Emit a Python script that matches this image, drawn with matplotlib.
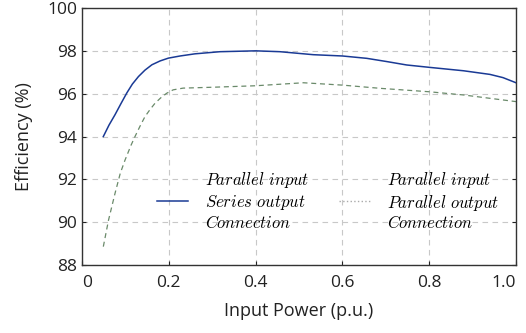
import matplotlib.pyplot as plt
from matplotlib.lines import Line2D

plt.rcParams['font.family'] = ['Open Sans', 'DejaVu Sans']
plt.rcParams['mathtext.fontset'] = 'cm'

# Series input / series output
p_series = [0.049, 0.062, 0.076, 0.09, 0.103, 0.116, 0.13, 0.145, 0.161, 0.18, 0.199, 0.226, 0.26, 0.318,
            0.4, 0.456, 0.533, 0.6, 0.656, 0.702, 0.748, 0.8, 0.879, 0.94, 0.97, 1.0]
eff_series = [94.0, 94.53, 95.02, 95.55, 96.03, 96.45, 96.8, 97.1, 97.35, 97.53, 97.66, 97.76, 97.86, 97.96,
              98.0, 97.96, 97.82, 97.76, 97.65, 97.5, 97.34, 97.23, 97.07, 96.9, 96.75, 96.51]

# Parallel input / parallel output
p_par = [0.049, 0.061, 0.076, 0.088, 0.099, 0.113, 0.122, 0.134, 0.145, 0.157, 0.168, 0.181, 0.195, 0.21,
         0.233, 0.3, 0.4, 0.51, 0.6, 0.687, 0.8, 0.879, 1.0]
eff_par = [88.86, 90.1, 91.35, 92.28, 92.9, 93.6, 94.0, 94.5, 94.93, 95.27, 95.55, 95.8, 96.02, 96.18,
           96.26, 96.3, 96.37, 96.51, 96.4, 96.25, 96.09, 95.94, 95.63]

xticks = [0, 0.2, 0.4, 0.6, 0.8, 1.0]
xticklabels = ['0', '0.2', '0.4', '0.6', '0.8', '1.0']
yticks = [88, 90, 92, 94, 96, 98, 100]

fig = plt.figure(figsize=(5.26, 3.33), dpi=100)
ax = fig.add_axes([0.156, 0.204, 0.825, 0.772])

ax.plot(p_series, eff_series, color='#1a3a95', lw=1.1)
ax.plot(p_par, eff_par, color='#6a8a6a', lw=0.9, linestyle=(0, (4, 3)))

ax.set_xlim(0, 1.0)
ax.set_ylim(88, 100)
ax.set_xticks(xticks)
ax.set_xticklabels(xticklabels)
ax.set_yticks(yticks)
ax.grid(True, color='#c8c8c8', linestyle=(0, (5, 4)), lw=0.8)
ax.tick_params(direction='in', length=3, labelsize=12.5, top=False, right=True, colors='#222222')
ax.tick_params(axis='x', pad=7)
xl = ax.get_xticklabels()
xl[0].set_ha('left')
xl[-1].set_ha('right')
for s in ax.spines.values():
    s.set_color('#333333')
    s.set_linewidth(1.0)

ax.set_xlabel('Input Power (p.u.)', fontsize=13, labelpad=8, color='#222222')
ax.set_ylabel('Efficiency (%)', fontsize=13, labelpad=10, color='#222222')

handles = [Line2D([], [], color='#1a3a95', lw=1.1),
           Line2D([], [], color='#aaaaaa', lw=1.0, linestyle=':')]
labels = ['$Parallel\\ input$\n$Series\\ output$\n$Connection$',
          '$Parallel\\ input$\n$Parallel\\ output$\n$Connection$']
ax.legend(handles, labels, ncol=2, frameon=False, fontsize=12,
          loc='center left', bbox_to_anchor=(0.145, 0.249), handlelength=1.9,
          columnspacing=1.75, handletextpad=1.0, borderpad=0.2)

fig.savefig('out.png', dpi=100)
